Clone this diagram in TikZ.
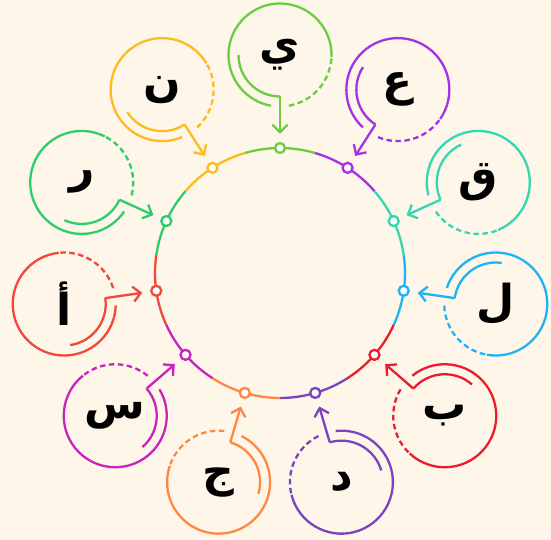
\documentclass[tikz,border=0pt]{standalone}
\usepackage{fontspec}
\newfontfamily\arabicfont[Script=Arabic]{DejaVu Sans}
\TeXXeTstate=1
\usetikzlibrary{arrows.meta,calc}

\definecolor{paper}{HTML}{FDF6E9}
\definecolor{cYa}{HTML}{6ACD3F}
\definecolor{cAin}{HTML}{A431E6}
\definecolor{cQaf}{HTML}{35D6B2}
\definecolor{cLam}{HTML}{1FB3F5}
\definecolor{cBa}{HTML}{EC1C2E}
\definecolor{cDal}{HTML}{7A44BE}
\definecolor{cJim}{HTML}{FF8845}
\definecolor{cSin}{HTML}{CB22BE}
\definecolor{cAlif}{HTML}{F0483C}
\definecolor{cRa}{HTML}{2ECC6A}
\definecolor{cNun}{HTML}{FFBA1E}

\begin{document}
\begin{tikzpicture}[
  x=1pt, y=1pt,
  ring/.style={line width=2.3pt},
  dashring/.style={line width=2.3pt, dash pattern=on 5.5pt off 3.5pt},
  dot/.style={circle, draw, fill=white, line width=2.3pt, minimum size=10pt, inner sep=0pt},
  letter/.style={font=\arabicfont\bfseries\fontsize{44}{44}\selectfont, text=black, inner sep=0pt},
  hook/.style={-{Straight Barb[length=7.5pt,width=15pt]}, line width=2.3pt, shorten >=8pt}
]
\fill[paper] (0,0) rectangle (551,540);
\useasboundingbox (0,0) rectangle (551,540);
\coordinate (hub) at (280,267);

% coloured pieces of the big ring
\foreach \col [count=\i from 0] in {cYa,cAin,cQaf,cLam,cBa,cDal,cJim,cSin,cAlif,cRa,cNun} {
  \pgfmathsetmacro{\a}{90-\i*360/11}
  \draw[ring, \col] (hub) ++(\a-16.364:125) arc[start angle=\a-16.364, end angle=\a+16.364, radius=125];
}

% letters, bubbles and pointers
\foreach \ch/\col [count=\i from 0] in {ي/cYa,ع/cAin,ق/cQaf,ل/cLam,ب/cBa,د/cDal,ج/cJim,س/cSin,أ/cAlif,ر/cRa,ن/cNun} {
  \pgfmathsetmacro{\a}{90-\i*360/11}
  \node[\col, dot] (dot\i) at ($(hub)+(\a:125)$) {};
  \node[letter] (letter\i) at ($(hub)+(\a:218)$) {\beginR\ch\endR};
  \draw[ring, \col] (letter\i.center) ++(\a+268:51.5) arc[start angle=\a+268, end angle=\a+530, radius=51.5];
  \draw[dashring, \col] (letter\i.center) ++(\a+190:51.5) arc[start angle=\a+190, end angle=\a+268, radius=51.5];
  \draw[ring, \col] (letter\i.center) ++(\a+90:41.5) arc[start angle=\a+90, end angle=\a+180, radius=41.5];
  \coordinate (tail\i) at ($(letter\i.center)+(\a+180:41.5)$);
  \draw[hook, \col] (tail\i) -- (dot\i);
}
\end{tikzpicture}
\end{document}
